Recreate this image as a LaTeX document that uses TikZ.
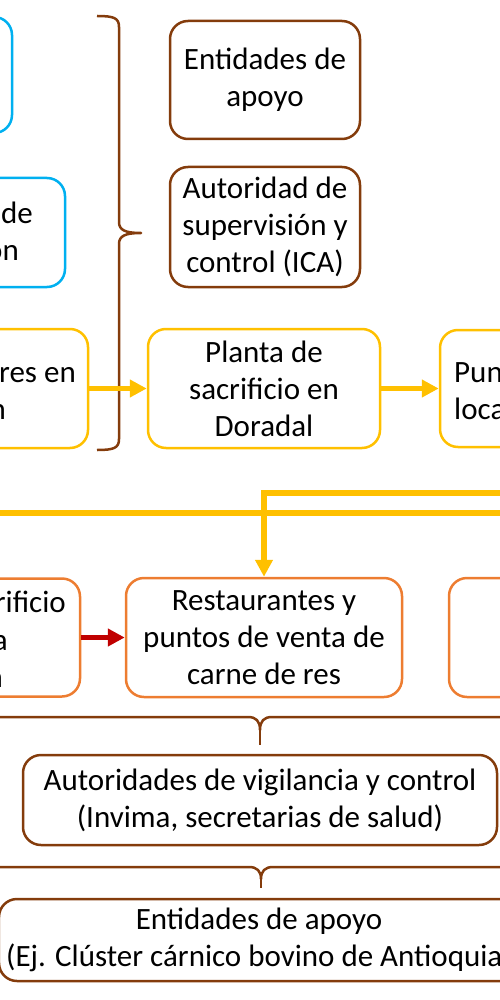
\documentclass[tikz,border=0pt]{standalone}
\usepackage{fontspec}
\setmainfont{Carlito}
\usetikzlibrary{arrows.meta}
\definecolor{cblue}{HTML}{00B0F0}
\definecolor{cbrown}{HTML}{843C0C}
\definecolor{cyellow}{HTML}{FFC000}
\definecolor{corange}{HTML}{ED7D31}
\definecolor{cred}{HTML}{C00000}
\begin{document}
\begin{tikzpicture}[x=1pt,y=-1pt,
  box/.style={draw, line width=2.5pt, rounded corners=18pt, inner sep=0pt, align=center, font=\fontsize{31}{37}\selectfont},
  bluebox/.style={box, draw=cblue},
  brownbox/.style={box, draw=cbrown},
  yellowbox/.style={box, draw=cyellow},
  orangebox/.style={box, draw=corange},
  frag/.style={inner sep=0pt, font=\fontsize{31}{37}\selectfont},
  yarrow/.style={draw=cyellow, line width=5.5pt, -{Triangle[length=17pt,width=17pt]}},
  yline/.style={draw=cyellow, line width=5.5pt},
  rarrow/.style={draw=cred, line width=5.5pt, -{Triangle[length=17pt,width=17pt]}},
  brace/.style={draw=cbrown, line width=2.5pt, line join=round}
]
\useasboundingbox (0,0) rectangle (500,1000);
\clip (0,0) rectangle (500,1000);

% blue boxes (cut off)
\node[bluebox, minimum width=200pt, minimum height=116pt] (blue1) at (-88,75) {};
\node[bluebox, minimum width=200pt, minimum height=109pt] (blue2) at (-35,232.5) {};
\node[frag, anchor=base east] (blue2a) at (33,223) {de};
\node[frag, anchor=base east] (blue2b) at (19,260) {on};

% brown boxes on top
\node[brownbox, minimum width=190pt, minimum height=118pt] (apoyo1) at (265,80) {Entidades de\\apoyo};
\node[brownbox, minimum width=190pt, minimum height=120pt] (ica) at (265,227) {Autoridad de\\supervisión y\\control (ICA)};

% top brace
\draw[brace] (97,16) .. controls (114,16) and (119,18) .. (119,27) -- (119,222)
  .. controls (119,230) and (125,233) .. (141,233)
  .. controls (125,233) and (119,236) .. (119,244) -- (119,439)
  .. controls (119,448) and (114,450) .. (97,450);

% yellow row
\node[yellowbox, minimum width=200pt, minimum height=119pt] (yel1) at (-12,388.5) {};
\node[frag, anchor=base east] (yel1a) at (76,382) {res en};
\node[frag, anchor=base east] (yel1b) at (6,419) {n};
\node[yellowbox, minimum width=232pt, minimum height=119pt] (planta) at (264,388.5) {Planta de\\sacrificio en\\Doradal};
\node[yellowbox, minimum width=200pt, minimum height=117pt] (punto) at (540,388.5) {};
\node[frag, anchor=base west] (puntoa) at (454,382) {Pun};
\node[frag, anchor=base west] (puntob) at (454,419) {loca};

\draw[yarrow] (yel1.east) -- (planta.west);
\draw[yarrow] (planta.east) -- (punto.west);

% yellow long lines
\coordinate (ylA) at (-10,513);
\coordinate (ylB) at (510,513);
\draw[yline] (ylA) -- (ylB);
\coordinate (yin) at (510,493);

% orange row
\node[orangebox, minimum width=200pt, minimum height=118pt] (or1) at (-20,637.5) {};
\node[frag, anchor=base east] (or1a) at (66,612) {rificio};
\node[frag, anchor=base east] (or1b) at (8,650) {a};
\node[frag, anchor=base east] (or1c) at (3,687) {n};
\node[orangebox, minimum width=276pt, minimum height=119pt] (rest) at (264,637.5) {Restaurantes y\\puntos de venta de\\carne de res};
\node[orangebox, minimum width=200pt, minimum height=119pt] (or3) at (549,637.5) {};

\draw[yarrow] (yin) -| (rest.north);
\draw[rarrow] (or1.east) -- (rest.west);

% horizontal brace 1
\draw[brace] (-10,717) -- (248,717) .. controls (256,717) and (260,721) .. (260,730)
  .. controls (260,721) and (264,717) .. (272,717) -- (510,717);
\draw[brace] (260,729) -- (260,745);

\node[brownbox, minimum width=474pt, minimum height=90pt] (aut) at (260,800) {Autoridades de vigilancia y control\\(Invima, secretarias de salud)};

% horizontal brace 2
\draw[brace] (-10,867) -- (249,867) .. controls (257,867) and (261,871) .. (261,879)
  .. controls (261,871) and (265,867) .. (273,867) -- (510,867);
\draw[brace] (261,878) -- (261,888);

\node[brownbox, minimum width=520pt, minimum height=82pt] (apoyo2) at (259,940) {Entidades de apoyo\\(Ej. Clúster cárnico bovino de Antioquia)};
\end{tikzpicture}
\end{document}
